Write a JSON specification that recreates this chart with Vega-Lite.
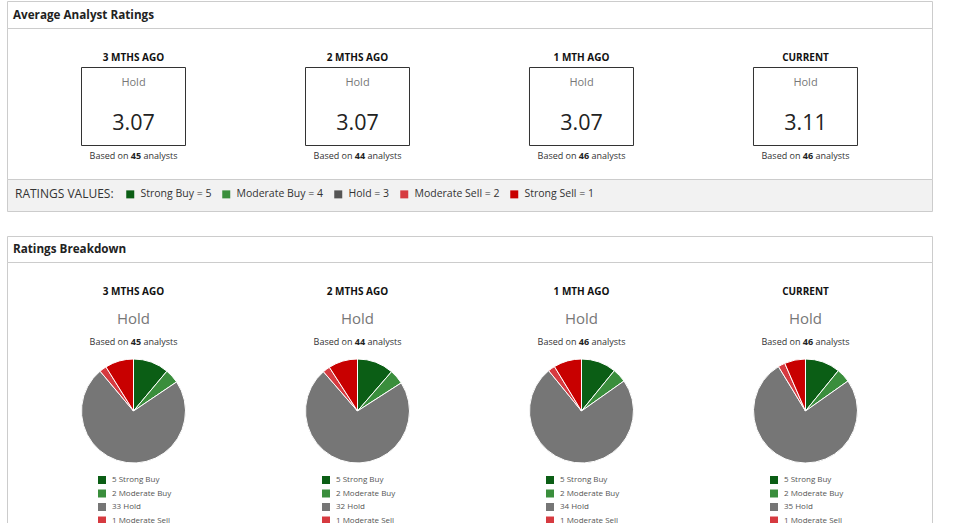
{
  "$schema": "https://vega.github.io/schema/vega-lite/v6.json",
  "padding": {"left": 6, "top": 0, "right": 0, "bottom": 0},
  "background": "white",
  "datasets": {
    "summary": [
      {"period": "3 MTHS AGO", "consensus": "Hold", "average": 3.07, "analysts": 45},
      {"period": "2 MTHS AGO", "consensus": "Hold", "average": 3.07, "analysts": 44},
      {"period": "1 MTH AGO", "consensus": "Hold", "average": 3.07, "analysts": 46},
      {"period": "CURRENT", "consensus": "Hold", "average": 3.11, "analysts": 46}
    ],
    "ratings": [
      {"rating": "Strong Buy", "score": 5},
      {"rating": "Moderate Buy", "score": 4},
      {"rating": "Hold", "score": 3},
      {"rating": "Moderate Sell", "score": 2},
      {"rating": "Strong Sell", "score": 1}
    ],
    "breakdown": [
      {"period": "3 MTHS AGO", "rating": "Strong Buy", "score": 5, "count": 5},
      {"period": "3 MTHS AGO", "rating": "Moderate Buy", "score": 4, "count": 2},
      {"period": "3 MTHS AGO", "rating": "Hold", "score": 3, "count": 33},
      {"period": "3 MTHS AGO", "rating": "Moderate Sell", "score": 2, "count": 1},
      {"period": "3 MTHS AGO", "rating": "Strong Sell", "score": 1, "count": 4},
      {"period": "2 MTHS AGO", "rating": "Strong Buy", "score": 5, "count": 5},
      {"period": "2 MTHS AGO", "rating": "Moderate Buy", "score": 4, "count": 2},
      {"period": "2 MTHS AGO", "rating": "Hold", "score": 3, "count": 32},
      {"period": "2 MTHS AGO", "rating": "Moderate Sell", "score": 2, "count": 1},
      {"period": "2 MTHS AGO", "rating": "Strong Sell", "score": 1, "count": 4},
      {"period": "1 MTH AGO", "rating": "Strong Buy", "score": 5, "count": 5},
      {"period": "1 MTH AGO", "rating": "Moderate Buy", "score": 4, "count": 2},
      {"period": "1 MTH AGO", "rating": "Hold", "score": 3, "count": 34},
      {"period": "1 MTH AGO", "rating": "Moderate Sell", "score": 2, "count": 1},
      {"period": "1 MTH AGO", "rating": "Strong Sell", "score": 1, "count": 4},
      {"period": "CURRENT", "rating": "Strong Buy", "score": 5, "count": 5},
      {"period": "CURRENT", "rating": "Moderate Buy", "score": 4, "count": 2},
      {"period": "CURRENT", "rating": "Hold", "score": 3, "count": 35},
      {"period": "CURRENT", "rating": "Moderate Sell", "score": 2, "count": 1},
      {"period": "CURRENT", "rating": "Strong Sell", "score": 1, "count": 3}
    ]
  },
  "spacing": 23,
  "resolve": {"scale": {"color": "independent"}, "legend": {"color": "independent"}},
  "vconcat": [
    {
      "spacing": 0,
      "bounds": "flush",
      "resolve": {"scale": {"color": "independent"}, "legend": {"color": "independent"}},
      "vconcat": [
        {
          "width": 925,
          "height": 27,
          "data": {"values": [{"panel": "Average Analyst Ratings"}]},
          "mark": {"type": "text", "align": "left", "dx": 6, "fontSize": 11.7, "fontWeight": "bold", "color": "#222"},
          "encoding": {
            "x": {"field": "panel", "type": "nominal", "scale": {"type": "point", "padding": 0, "align": 0}, "axis": null},
            "text": {"field": "panel"}
          }
        },
        {
          "width": 925,
          "height": 151,
          "data": {"name": "summary"},
          "encoding": {
            "x": {
              "field": "period", "type": "nominal", "axis": null,
              "scale": {"type": "band", "domain": ["3 MTHS AGO", "2 MTHS AGO", "1 MTH AGO", "CURRENT"], "paddingInner": 0.5357, "paddingOuter": 0.3326}
            }
          },
          "layer": [
            {"mark": {"type": "text", "dy": -45.5, "fontSize": 10, "fontWeight": "bold", "color": "#111"}, "encoding": {"text": {"field": "period"}}},
            {"mark": {"type": "point", "shape": "M-1,-0.75H1V0.75H-1Z", "size": 10816, "filled": false, "stroke": "#333", "strokeWidth": 1, "opacity": 1, "yOffset": 3}},
            {"mark": {"type": "text", "dy": -20.5, "fontSize": 11, "color": "#777"}, "encoding": {"text": {"field": "consensus"}}},
            {"mark": {"type": "text", "dy": 26.5, "baseline": "alphabetic", "fontSize": 21.5, "color": "#222"}, "encoding": {"text": {"field": "average", "type": "quantitative", "format": ".2f"}}},
            {"mark": {"type": "text", "dy": 52.5, "dx": 2.5, "fontSize": 9, "fontWeight": "bold", "color": "#222"}, "encoding": {"text": {"field": "analysts"}}},
            {"mark": {"type": "text", "dy": 52.5, "dx": -5, "align": "right", "fontSize": 9, "color": "#333", "text": "Based on"}},
            {"mark": {"type": "text", "dy": 52.5, "dx": 10, "align": "left", "fontSize": 9, "color": "#333", "text": "analysts"}}
          ]
        },
        {
          "width": 925,
          "height": 32,
          "view": {"fill": "#f2f2f2", "stroke": "#cccccc"},
          "data": {"name": "ratings"},
          "mark": {"type": "square", "opacity": 0},
          "encoding": {
            "color": {
              "field": "rating", "type": "nominal",
              "scale": {
                "domain": ["Strong Buy", "Moderate Buy", "Hold", "Moderate Sell", "Strong Sell"],
                "range": ["#0b5e15", "#3a8e3c", "#555555", "#d63a40", "#c80000"]
              },
              "legend": {
                "orient": "none",
                "legendX": 8,
                "legendY": 10,
                "padding": 0,
                "direction": "horizontal",
                "title": "RATINGS VALUES:",
                "titleOrient": "left",
                "titleFontSize": 12,
                "titleFontWeight": "normal",
                "titleColor": "#333",
                "titlePadding": 11,
                "labelFontSize": 10.5,
                "labelColor": "#333",
                "labelOffset": 5,
                "labelLimit": 0,
                "columnPadding": 9,
                "symbolType": "square",
                "symbolSize": 64,
                "symbolStrokeWidth": 0,
                "symbolOpacity": 1,
                "labelExpr": "datum.label + ' = ' + (5 - indexof(['Strong Buy', 'Moderate Buy', 'Hold', 'Moderate Sell', 'Strong Sell'], datum.label))"
              }
            }
          }
        }
      ]
    },
    {
      "spacing": 0,
      "bounds": "flush",
      "resolve": {"scale": {"color": "independent"}, "legend": {"color": "independent"}},
      "vconcat": [
        {
          "width": 925,
          "height": 26,
          "data": {"values": [{"panel": "Ratings Breakdown"}]},
          "mark": {"type": "text", "align": "left", "dx": 6, "fontSize": 11.7, "fontWeight": "bold", "color": "#222"},
          "encoding": {
            "x": {"field": "panel", "type": "nominal", "scale": {"type": "point", "padding": 0, "align": 0}, "axis": null},
            "text": {"field": "panel"}
          }
        },
        {
          "width": 925,
          "height": 262,
          "encoding": {
            "x": {
              "field": "period", "type": "nominal", "axis": null,
              "scale": {"type": "band", "domain": ["3 MTHS AGO", "2 MTHS AGO", "1 MTH AGO", "CURRENT"], "paddingInner": 0.5357, "paddingOuter": 0.3326}
            }
          },
          "layer": [
            {"data": {"name": "summary"}, "mark": {"type": "text", "dy": -101, "fontSize": 10, "fontWeight": "bold", "color": "#111"}, "encoding": {"text": {"field": "period"}}},
            {"data": {"name": "summary"}, "mark": {"type": "text", "dy": -74, "fontSize": 15, "color": "#777"}, "encoding": {"text": {"field": "consensus"}}},
            {"data": {"name": "summary"}, "mark": {"type": "text", "dy": -51, "dx": 2.5, "fontSize": 9, "fontWeight": "bold", "color": "#222"}, "encoding": {"text": {"field": "analysts"}}},
            {"data": {"name": "summary"}, "mark": {"type": "text", "dy": -51, "dx": -5, "align": "right", "fontSize": 9, "color": "#333", "text": "Based on"}},
            {"data": {"name": "summary"}, "mark": {"type": "text", "dy": -51, "dx": 10, "align": "left", "fontSize": 9, "color": "#333", "text": "analysts"}},
            {
              "data": {"name": "breakdown"},
              "transform": [{"stack": "count", "groupby": ["period"], "sort": [{"field": "score", "order": "descending"}], "offset": "normalize", "as": ["t0", "t1"]}],
              "mark": {"type": "arc", "outerRadius": 52, "stroke": "#ffffff", "strokeWidth": 1, "yOffset": 18},
              "encoding": {
                "theta": {"field": "t0", "type": "quantitative", "scale": {"domain": [0, 1]}},
                "theta2": {"field": "t1"},
                "color": {
                  "field": "rating", "type": "nominal", "legend": null,
                  "scale": {
                    "domain": ["Strong Buy", "Moderate Buy", "Hold", "Moderate Sell", "Strong Sell"],
                    "range": ["#0b5e15", "#3a8e3c", "#767676", "#d63a40", "#c80000"]
                  }
                }
              }
            },
            {
              "data": {"name": "breakdown"},
              "mark": {"type": "square", "size": 64, "opacity": 1, "xOffset": -31.5},
              "encoding": {
                "y": {"field": "rating", "type": "nominal", "axis": null, "scale": {"type": "point", "padding": 0, "domain": ["Strong Buy", "Moderate Buy", "Hold", "Moderate Sell", "Strong Sell"], "range": [218, 272]}},
                "color": {"field": "rating", "type": "nominal", "legend": null}
              }
            },
            {
              "data": {"name": "breakdown"},
              "transform": [{"calculate": "datum.count + ' ' + datum.rating", "as": "entry"}],
              "mark": {"type": "text", "align": "left", "dx": -21.5, "fontSize": 8, "color": "#555"},
              "encoding": {
                "y": {"field": "rating", "type": "nominal", "axis": null},
                "text": {"field": "entry"}
              }
            }
          ]
        }
      ]
    }
  ],
  "config": {
    "font": "Open Sans",
    "view": {"stroke": "#cccccc"},
    "axis": {"domain": false}
  }
}
